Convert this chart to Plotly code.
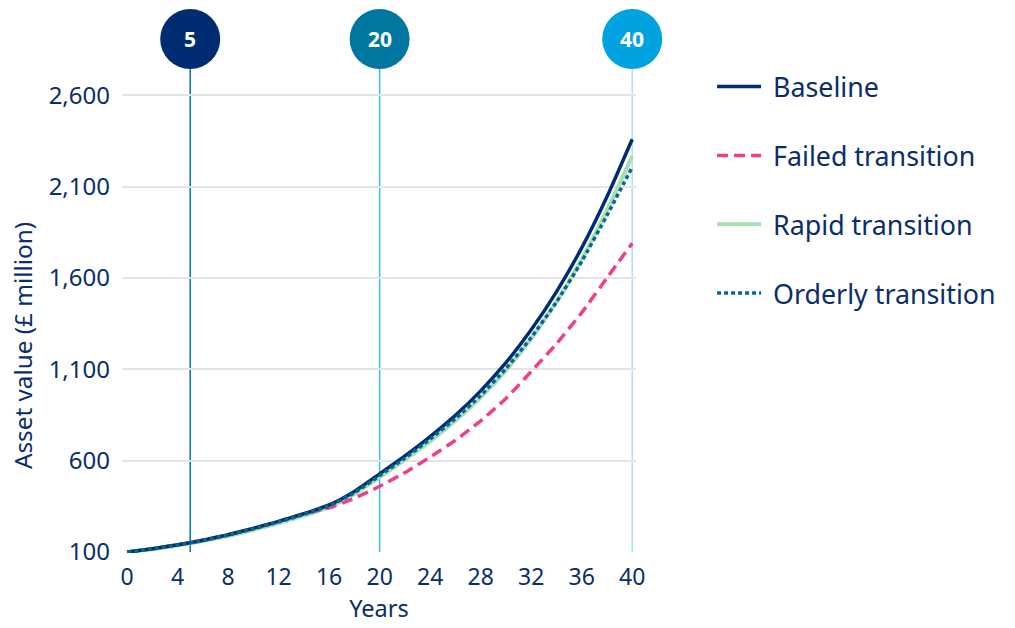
import plotly.graph_objects as go

years = [0, 2, 4, 6, 8, 10, 12, 14, 16, 18, 20, 22, 24, 26, 28, 30, 32, 34, 36, 38, 40]
baseline = [100, 118, 140, 165, 195, 230, 268, 310, 358, 432, 528, 626, 732, 848, 982, 1136, 1316, 1524, 1764, 2044, 2359]
failed = [100, 118, 140, 165, 195, 230, 268, 310, 342, 395, 460, 535, 620, 712, 818, 940, 1088, 1240, 1410, 1600, 1790]
rapid = [100, 115, 136, 160, 188, 221, 258, 299, 346, 417, 510, 605, 706, 818, 946, 1094, 1268, 1468, 1702, 1970, 2266]
orderly = [100, 117, 139, 163, 193, 227, 265, 306, 353, 425, 518, 614, 718, 830, 957, 1104, 1274, 1468, 1690, 1942, 2206]

series_names = ["Baseline", "Failed transition", "Rapid transition", "Orderly transition"]
markers_years = [5, 20, 40]
markers_labels = ["5", "20", "40"]

y_ticks = [100, 600, 1100, 1600, 2100, 2600]
x_ticks = list(range(0, 41, 4))

NAVY = "#0a2d6e"
FONT = "Noto Sans"

XMIN, XMAX = -0.4, 40.3
YMIN, YMAX = 95, 2650

fig = go.Figure()
styles = [
    dict(color="#002D72", width=3.5, dash="solid"),
    dict(color="#EE3F8B", width=3.5, dash="11px,6px"),
    dict(color="#A8DDB5", width=4, dash="solid"),
    dict(color="#006a8e", width=3.5, dash="4px,3px"),
]
data = [baseline, failed, rapid, orderly]
order = [2, 1, 0, 3]
for i in order:
    fig.add_trace(go.Scatter(
        x=years, y=data[i], mode="lines", name="\u00a0" + series_names[i],
        line=dict(shape="spline", smoothing=0.5, **styles[i]),
        legendgroup=series_names[i], legendrank=i + 1,
    ))


def px_paper(v):
    return (v - XMIN) / (XMAX - XMIN)


def py_paper(v):
    return (v - YMIN) / (YMAX - YMIN)


line_colors = ["#0077A0", "#3DB8EA", "#A9DDF6"]
circle_colors = ["#002D72", "#0077A0", "#00A3E0"]
shapes = []
annotations = []
CY = 1.1006
for k, xv in enumerate(markers_years):
    shapes.append(dict(type="line", xref="paper", yref="paper", x0=px_paper(xv), x1=px_paper(xv),
                       y0=py_paper(100), y1=1.04, line=dict(color=line_colors[k], width=1.5),
                       layer="between"))
    shapes.append(dict(type="circle", xref="paper", yref="paper", xsizemode="pixel", ysizemode="pixel",
                       xanchor=px_paper(xv), yanchor=CY, x0=-30, x1=30, y0=-30, y1=30,
                       fillcolor=circle_colors[k], line=dict(width=0), layer="above"))
    annotations.append(dict(x=px_paper(xv), y=CY, xref="paper", yref="paper",
                            text="<b>" + markers_labels[k] + "</b>",
                            showarrow=False, font=dict(family=FONT, size=21, color="white"),
                            xanchor="center", yanchor="middle"))

# y-axis title placed as rotated annotation (slightly below the plot centre, as in the reference)
annotations.append(dict(x=-0.1947, y=0.445, xref="paper", yref="paper",
                        text="Asset value (£ million)", textangle=-90, showarrow=False,
                        font=dict(family=FONT, size=24.3, color=NAVY),
                        xanchor="center", yanchor="middle"))

fig.update_layout(
    width=1015, height=628,
    margin=dict(l=122, r=1015 - 636, t=86, b=75),
    paper_bgcolor="white", plot_bgcolor="white",
    font=dict(family=FONT, color=NAVY),
    showlegend=True,
    legend=dict(x=1.148, y=1.05, xanchor="left", yanchor="top",
                font=dict(family=FONT, size=26.8, color=NAVY),
                tracegroupgap=31, itemwidth=44, bgcolor="rgba(0,0,0,0)"),
    shapes=shapes, annotations=annotations,
    xaxis=dict(range=[XMIN, XMAX], tickvals=x_ticks, showgrid=False, zeroline=False,
               showline=False, ticks="", tickfont=dict(size=23, color=NAVY), ticklabelstandoff=8,
               title=dict(text="Years", font=dict(size=23.5, color=NAVY), standoff=8)),
    yaxis=dict(range=[YMIN, YMAX], tickvals=y_ticks, tickformat=",", showgrid=True,
               gridcolor="#e4e4e4", gridwidth=1.5, zeroline=False, showline=False, ticks="",
               tickfont=dict(size=24, color=NAVY), ticklabelstandoff=11),
)

fig.write_html("out.html")
